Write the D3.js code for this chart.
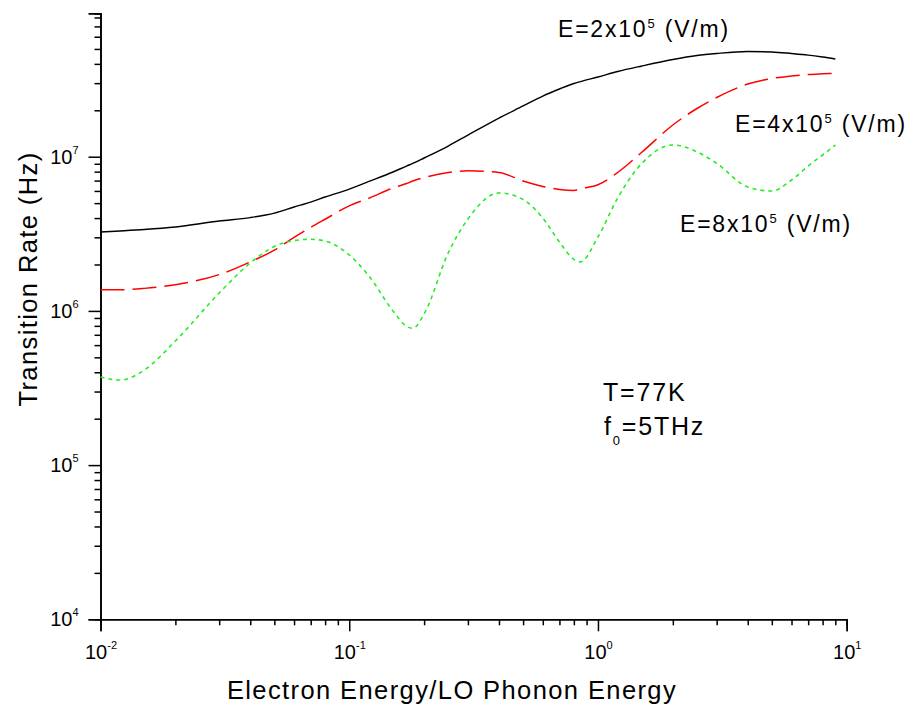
<!DOCTYPE html>
<html>
<head>
<meta charset="utf-8">
<script src="https://cdn.jsdelivr.net/npm/d3@7"></script>
<style>
  html, body { margin: 0; padding: 0; background: #fff; }
  svg { display: block; font-family: "Liberation Sans", Arial, sans-serif; }
</style>
</head>
<body>
<svg id="chart" width="919" height="706"></svg>
<script>
// Electron energy in units of the LO phonon energy
const energy = [0.01, 0.012, 0.015, 0.02, 0.03, 0.04, 0.05, 0.06, 0.07, 0.08,
  0.1, 0.12, 0.15, 0.17, 0.18, 0.2, 0.25, 0.3, 0.4, 0.5, 0.6, 0.7, 0.8, 0.85,
  1.0, 1.2, 1.5, 2, 2.5, 3, 4, 5, 6, 7, 8, 9];

// Transition rate (Hz) for each field strength
const rateE2 = [3.25e6, 3.30e6, 3.37e6, 3.50e6, 3.83e6, 4.03e6, 4.31e6, 4.72e6, 5.08e6, 5.48e6,
  6.17e6, 6.91e6, 7.96e6, 8.70e6, 9.04e6, 9.81e6, 1.173e7, 1.382e7, 1.782e7, 2.133e7, 2.475e7, 2.748e7, 2.983e7, 3.07e7,
  3.288e7, 3.568e7, 3.875e7, 4.27e7, 4.53e7, 4.67e7, 4.81e7, 4.78e7, 4.67e7, 4.56e7, 4.43e7, 4.30e7];

const rateE4 = [1.37e6, 1.37e6, 1.40e6, 1.48e6, 1.72e6, 2.08e6, 2.48e6, 3.0e6, 3.48e6, 3.93e6,
  4.80e6, 5.38e6, 6.27e6, 6.70e6, 6.96e6, 7.33e6, 7.90e6, 8.10e6, 7.90e6, 6.96e6, 6.41e6, 6.13e6, 6.04e6, 6.2e6,
  6.58e6, 7.90e6, 1.068e7, 1.606e7, 2.054e7, 2.42e7, 2.96e7, 3.215e7, 3.337e7, 3.413e7, 3.449e7, 3.475e7];

const rateE8 = [3.73e5, 3.56e5, 4.14e5, 6.38e5, 1.306e6, 2.045e6, 2.616e6, 2.86e6, 2.913e6, 2.84e6,
  2.305e6, 1.684e6, 9.99e5, 7.95e5, 7.71e5, 9.55e5, 2.375e6, 3.945e6, 5.82e6, 5.28e6, 4.0e6, 2.8e6, 2.16e6, 2.08e6,
  3.02e6, 5.4e6, 9.04e6, 1.191e7, 1.076e7, 9.06e6, 6.36e6, 5.99e6, 7.06e6, 8.70e6, 1.026e7, 1.191e7];

// Axis decades and labels
const xMajor = [0.01, 0.1, 1, 10];
const xExponents = ["-2", "-1", "0", "1"];
const yMajor = [1e4, 1e5, 1e6, 1e7];
const yExponents = ["4", "5", "6", "7"];
const xTitle = "Electron Energy/LO Phonon Energy";
const yTitle = "Transition Rate (Hz)";

const svg = d3.select("#chart");

const x = d3.scaleLog().domain([0.01, 10]).range([100.5, 846.7]);
const y = d3.scaleLog().domain([1e4, 8.5e7]).range([619.3, 13.4]);

// minor ticks: 2..9 within each decade
const xMinor = [];
[-2, -1, 0].forEach(d => { for (let k = 2; k <= 9; k++) xMinor.push(k * Math.pow(10, d)); });
const yMinor = [];
[4, 5, 6, 7].forEach(d => { for (let k = 2; k <= 9; k++) { const v = k * Math.pow(10, d); if (v <= 8.5e7) yMinor.push(v); } });

function styleAxis(g) {
  g.selectAll("path.domain").attr("stroke", "#000").attr("stroke-width", 1.6);
  g.selectAll(".tick line").attr("stroke", "#000").attr("stroke-width", 1.5);
}

// minor tick axes
svg.append("g").attr("transform", `translate(0,${y.range()[0]})`)
  .call(d3.axisBottom(x).tickValues(xMinor).tickSize(6).tickFormat(""))
  .call(styleAxis);
svg.append("g").attr("transform", `translate(${x.range()[0]},0)`)
  .call(d3.axisLeft(y).tickValues(yMinor).tickSize(6).tickFormat(""))
  .call(styleAxis);

// major tick axes with power-of-ten labels
const gx = svg.append("g").attr("transform", `translate(0,${y.range()[0]})`)
  .call(d3.axisBottom(x).tickValues(xMajor).tickSize(12).tickPadding(14).tickFormat(""))
  .call(styleAxis);
gx.selectAll(".tick text").each(function(d, i) {
  const t = d3.select(this).attr("font-size", 20).attr("fill", "#000")
    .attr("font-family", "Liberation Sans, Arial, sans-serif");
  t.append("tspan").text("10");
  t.append("tspan").attr("dy", "-10").attr("font-size", 11).text(xExponents[i]);
});

const gy = svg.append("g").attr("transform", `translate(${x.range()[0]},0)`)
  .call(d3.axisLeft(y).tickValues(yMajor).tickSize(12).tickPadding(10).tickFormat(""))
  .call(styleAxis);
gy.selectAll(".tick text").each(function(d, i) {
  const t = d3.select(this).attr("font-size", 20).attr("fill", "#000")
    .attr("font-family", "Liberation Sans, Arial, sans-serif");
  t.append("tspan").text("10");
  t.append("tspan").attr("dy", "-10").attr("font-size", 11).text(yExponents[i]);
});

// axis titles
svg.append("text")
  .attr("x", 452).attr("y", 699)
  .attr("text-anchor", "middle")
  .attr("font-size", 25.5).attr("letter-spacing", 1.4)
  .text(xTitle);
svg.append("text")
  .attr("transform", "translate(37,279) rotate(-90)")
  .attr("text-anchor", "middle")
  .attr("font-size", 25.5).attr("letter-spacing", 1.4)
  .text(yTitle);

// curves
const line = d3.line()
  .x(d => x(d[0]))
  .y(d => y(d[1]))
  .curve(d3.curveMonotoneX);

const series = [
  { values: rateE2, color: "#000000", dash: null, width: 1.4 },
  { values: rateE4, color: "#ff0000", dash: "24,8", width: 1.5 },
  { values: rateE8, color: "#22ee22", dash: "4,4", width: 1.6 }
];

series.forEach(s => {
  svg.append("path")
    .datum(energy.map((e, i) => [e, s.values[i]]))
    .attr("fill", "none")
    .attr("stroke", s.color)
    .attr("stroke-width", s.width)
    .attr("stroke-dasharray", s.dash)
    .attr("d", line);
});

// field labels
function fieldLabel(px, py, mult) {
  const t = svg.append("text").attr("x", px).attr("y", py)
    .attr("font-size", 23).attr("letter-spacing", 1.8);
  t.append("tspan").text(`E=${mult}x10`);
  t.append("tspan").attr("dy", -9).attr("font-size", 13).text("5");
  t.append("tspan").attr("dy", 9).text(" (V/m)");
}
fieldLabel(558, 37, 2);
fieldLabel(735, 132, 4);
fieldLabel(680, 232, 8);

// conditions
svg.append("text").attr("x", 603).attr("y", 401)
  .attr("font-size", 25).attr("letter-spacing", 1.8)
  .text("T=77K");
const f0 = svg.append("text").attr("x", 604).attr("y", 435)
  .attr("font-size", 25).attr("letter-spacing", 1.8);
f0.append("tspan").text("f");
f0.append("tspan").attr("dy", 10).attr("font-size", 13).text("0");
f0.append("tspan").attr("dy", -10).text("=5THz");
</script>
</body>
</html>
